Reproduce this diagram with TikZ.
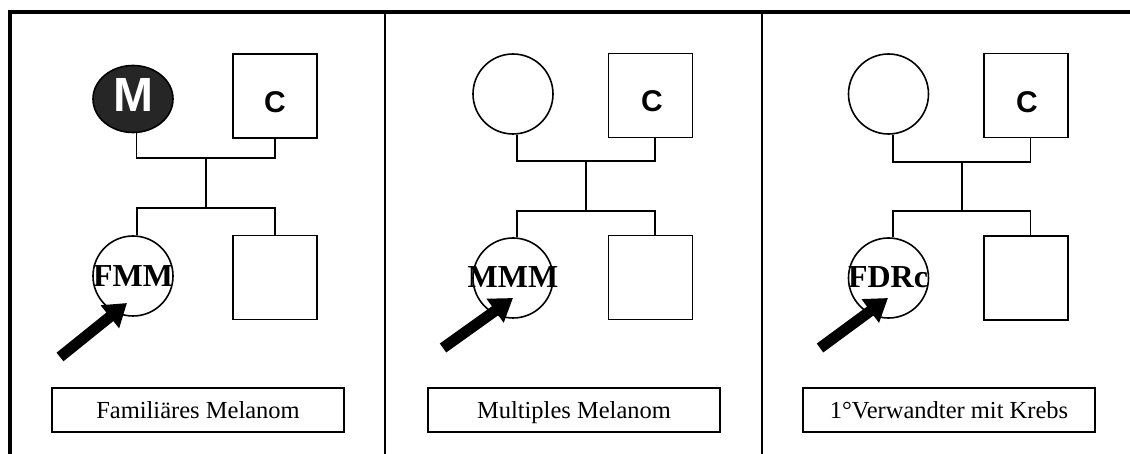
\documentclass[tikz,border=0pt]{standalone}
\usepackage{fontspec}
\setmainfont{Liberation Serif}
\newfontfamily\arialfont{Liberation Sans}
\usetikzlibrary{arrows.meta,calc,shapes.geometric}
\begin{document}
\begin{tikzpicture}[x=1bp,y=-1bp,
  frameline/.style={line width=4bp},
  divline/.style={line width=2.7bp},
  person/.style={draw, line width=1.6bp, inner sep=0pt},
  female/.style={person, circle, minimum size=80bp},
  male/.style={person, rectangle, minimum size=84bp},
  conn/.style={line width=1.6bp},
  caption/.style={draw, line width=1.6bp, rectangle, minimum width=292bp, minimum height=44bp, inner sep=0pt, font=\fontsize{24.5bp}{28bp}\selectfont, text height=22bp, text depth=4bp},
  ctext/.style={anchor=base, inner sep=0pt, font=\arialfont\bfseries\fontsize{30bp}{34bp}\selectfont},
  mtext/.style={anchor=base, inner sep=0pt, text=white, font=\arialfont\bfseries\fontsize{48bp}{52bp}\selectfont},
  ptext/.style={anchor=base, inner sep=0pt, font=\bfseries\fontsize{32bp}{36bp}\selectfont},
  proband/.style={line width=11bp, -{Triangle[width=28bp,length=22bp]}},
]
\useasboundingbox (0,0) rectangle (1130,454);
% frame
\draw[frameline] (10,454) -- (10,12) -- (1130,12);
\draw[divline] (385,12) -- (385,454);
\draw[divline] (762,12) -- (762,454);

% ---------- panel 1 ----------
\node[person, ellipse, minimum width=80bp, minimum height=67bp, fill=black!85] (m1) at (133,99) {};
\node[mtext] (m1t) at (133.5,112) {M};
\node[male] (f1) at (275,96) {};
\node[ctext] (f1t) at (275,113) {C};
\node[female] (d1) at (133,276) {};
\node[ptext] (d1t) at (133,287) {FMM};
\node[male] (s1) at (275,277.5) {};
\coordinate (j1) at (206,158);
\coordinate (k1) at (206,208);
\draw[conn] (m1.-84) |- (j1) -| (f1.south);
\draw[conn] (j1) -- (k1);
\draw[conn] (d1.84) |- (k1) -| (s1.north);
\coordinate (a1) at (60,357);
\coordinate (b1) at (127,303);
\draw[proband] (a1) -- (b1);
\node[caption] (l1) at (198,410) {Familiäres Melanom};

% ---------- panel 2 ----------
\node[female] (m2) at (513,94) {};
\node[male] (f2) at (650.5,95.5) {};
\node[ctext] (f2t) at (652,112) {C};
\node[female] (d2) at (513,278) {};
\node[ptext] (d2t) at (513,288) {MMM};
\node[male] (s2) at (650.5,277.5) {};
\coordinate (j2) at (586,161);
\coordinate (k2) at (586,211);
\draw[conn] (m2.-84) |- (j2) -| ($(f2.south)+(4.5,0)$);
\draw[conn] (j2) -- (k2);
\draw[conn] (d2.84) |- (k2) -| ($(s2.north)+(4.5,0)$);
\coordinate (a2) at (443,348);
\coordinate (b2) at (513,298);
\draw[proband] (a2) -- (b2);
\node[caption] (l2) at (574,410) {Multiples Melanom};

% ---------- panel 3 ----------
\node[female] (m3) at (888.5,94) {};
\node[male] (f3) at (1026,95.5) {};
\node[ctext] (f3t) at (1027,113) {C};
\node[female] (d3) at (888.5,278) {};
\node[ptext] (d3t) at (888,288) {FDRc};
\node[male] (s3) at (1026,278) {};
\coordinate (j3) at (962,162);
\coordinate (k3) at (962,211);
\draw[conn] (m3.-84) |- (j3) -| ($(f3.south)+(4.5,0)$);
\draw[conn] (j3) -- (k3);
\draw[conn] (d3.84) |- (k3) -| ($(s3.north)+(4.5,0)$);
\coordinate (a3) at (820,348);
\coordinate (b3) at (888,298);
\draw[proband] (a3) -- (b3);
\node[caption] (l3) at (949,410) {1°Verwandter mit Krebs};
\end{tikzpicture}
\end{document}
